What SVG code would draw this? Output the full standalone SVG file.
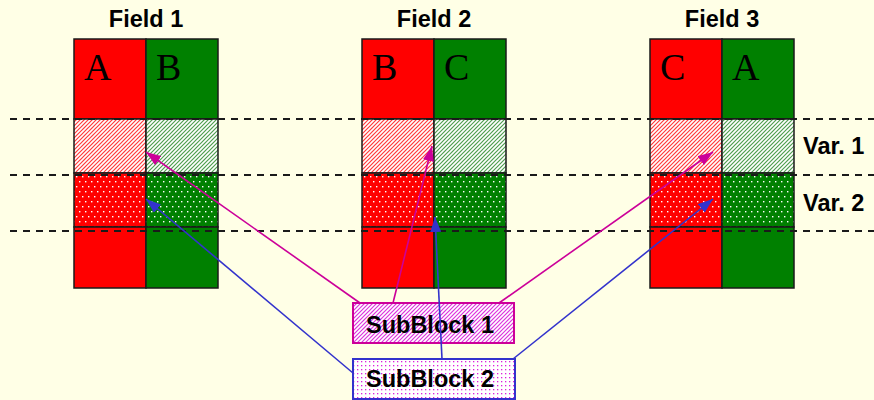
<svg xmlns="http://www.w3.org/2000/svg" width="874" height="400" viewBox="0 0 874 400">
  <style>
    .title { font-family: "Liberation Sans", Arial, sans-serif; font-weight: bold; font-size: 23.5px; fill: #000; }
    .letter { font-family: "Liberation Serif", "Times New Roman", serif; font-size: 38px; fill: #000; }
    .cell { stroke: #1a1a1a; stroke-width: 1.5; }
    .grid { stroke: #1a1a1a; stroke-width: 2; stroke-dasharray: 7 6; fill: none; }
    .mag { stroke: #CC0099; stroke-width: 1.6; fill: none; }
    .blu { stroke: #3333CC; stroke-width: 1.6; fill: none; }
    .hatch { fill: none; stroke-width: 1.2; }
  </style>
  <defs>
    <!-- diagonal hatches, 8px tiles with a 4px stripe period -->
    <pattern id="hatchRed" width="8" height="8" patternUnits="userSpaceOnUse">
      <rect width="8" height="8" fill="#fff"/>
      <path class="hatch" stroke="#FF3A3A" d="M-1,1 L1,-1 M-1,5 L5,-1 M-1,9 L9,-1 M3,9 L9,3 M7,9 L9,7"/>
    </pattern>
    <pattern id="hatchGreen" width="8" height="8" patternUnits="userSpaceOnUse">
      <rect width="8" height="8" fill="#fff"/>
      <path class="hatch" stroke="#4E9E4E" d="M-1,1 L1,-1 M-1,5 L5,-1 M-1,9 L9,-1 M3,9 L9,3 M7,9 L9,7"/>
    </pattern>
    <pattern id="hatchMag" width="8" height="8" patternUnits="userSpaceOnUse">
      <rect width="8" height="8" fill="#fff"/>
      <path class="hatch" stroke="#DD33DD" d="M-1,1 L1,-1 M-1,5 L5,-1 M-1,9 L9,-1 M3,9 L9,3 M7,9 L9,7"/>
    </pattern>
    <!-- dotted fills -->
    <pattern id="dotsRed" width="6" height="10" patternUnits="userSpaceOnUse">
      <rect width="6" height="10" fill="#FF0000"/>
      <rect x="1" y="1" width="1.4" height="1.4" fill="#fff"/>
      <rect x="4" y="6" width="1.4" height="1.4" fill="#fff"/>
    </pattern>
    <pattern id="dotsGreen" width="6" height="10" patternUnits="userSpaceOnUse">
      <rect width="6" height="10" fill="#008000"/>
      <rect x="1" y="1" width="1.4" height="1.4" fill="#fff"/>
      <rect x="4" y="6" width="1.4" height="1.4" fill="#fff"/>
    </pattern>
    <pattern id="dotsMag" width="4" height="4" patternUnits="userSpaceOnUse">
      <rect width="4" height="4" fill="#fff"/>
      <rect x="1" y="1" width="1.3" height="1.3" fill="#DD22DD"/>
    </pattern>
    <marker id="headMag" viewBox="0 0 15 11" refX="15" refY="5.5" markerWidth="15" markerHeight="11" markerUnits="userSpaceOnUse" orient="auto">
      <path d="M0,0 L15,5.5 L0,11 z" fill="#CC0099"/>
    </marker>
    <marker id="headBlu" viewBox="0 0 15 11" refX="15" refY="5.5" markerWidth="15" markerHeight="11" markerUnits="userSpaceOnUse" orient="auto">
      <path d="M0,0 L15,5.5 L0,11 z" fill="#3333CC"/>
    </marker>
  </defs>

  <rect width="874" height="400" fill="#FFFFE6"/>

  <!-- Field 1 -->
  <g id="field1">
    <text class="title" x="146" y="27" text-anchor="middle">Field 1</text>
    <rect class="cell" x="74" y="39" width="72" height="80" fill="#FF0000"/>
    <rect class="cell" x="146" y="39" width="72" height="80" fill="#008000"/>
    <rect class="cell" x="74" y="119" width="72" height="54" fill="url(#hatchRed)"/>
    <rect class="cell" x="146" y="119" width="72" height="54" fill="url(#hatchGreen)"/>
    <rect class="cell" x="74" y="173" width="72" height="54" fill="url(#dotsRed)"/>
    <rect class="cell" x="146" y="173" width="72" height="54" fill="url(#dotsGreen)"/>
    <rect class="cell" x="74" y="227" width="72" height="61" fill="#FF0000"/>
    <rect class="cell" x="146" y="227" width="72" height="61" fill="#008000"/>
    <text class="letter" x="84" y="80">A</text>
    <text class="letter" x="156" y="80">B</text>
  </g>

  <!-- Field 2 -->
  <g id="field2">
    <text class="title" x="434" y="27" text-anchor="middle">Field 2</text>
    <rect class="cell" x="362" y="39" width="72" height="80" fill="#FF0000"/>
    <rect class="cell" x="434" y="39" width="72" height="80" fill="#008000"/>
    <rect class="cell" x="362" y="119" width="72" height="54" fill="url(#hatchRed)"/>
    <rect class="cell" x="434" y="119" width="72" height="54" fill="url(#hatchGreen)"/>
    <rect class="cell" x="362" y="173" width="72" height="54" fill="url(#dotsRed)"/>
    <rect class="cell" x="434" y="173" width="72" height="54" fill="url(#dotsGreen)"/>
    <rect class="cell" x="362" y="227" width="72" height="61" fill="#FF0000"/>
    <rect class="cell" x="434" y="227" width="72" height="61" fill="#008000"/>
    <text class="letter" x="372" y="80">B</text>
    <text class="letter" x="444" y="80">C</text>
  </g>

  <!-- Field 3 -->
  <g id="field3">
    <text class="title" x="722" y="27" text-anchor="middle">Field 3</text>
    <rect class="cell" x="650" y="39" width="72" height="80" fill="#FF0000"/>
    <rect class="cell" x="722" y="39" width="72" height="80" fill="#008000"/>
    <rect class="cell" x="650" y="119" width="72" height="54" fill="url(#hatchRed)"/>
    <rect class="cell" x="722" y="119" width="72" height="54" fill="url(#hatchGreen)"/>
    <rect class="cell" x="650" y="173" width="72" height="54" fill="url(#dotsRed)"/>
    <rect class="cell" x="722" y="173" width="72" height="54" fill="url(#dotsGreen)"/>
    <rect class="cell" x="650" y="227" width="72" height="61" fill="#FF0000"/>
    <rect class="cell" x="722" y="227" width="72" height="61" fill="#008000"/>
    <text class="letter" x="660" y="80">C</text>
    <text class="letter" x="732" y="80">A</text>
  </g>

  <!-- row guides -->
  <g id="guides">
    <line class="grid" x1="10" y1="119" x2="874" y2="119"/>
    <line class="grid" x1="10" y1="175" x2="874" y2="175"/>
    <line class="grid" x1="10" y1="231" x2="874" y2="231"/>
  </g>

  <g id="var-labels">
    <text class="title" x="803" y="154">Var. 1</text>
    <text class="title" x="803" y="211">Var. 2</text>
  </g>

  <g id="subblock1">
    <rect x="353" y="303" width="161" height="40" fill="url(#hatchMag)" stroke="#CC0099" stroke-width="2"/>
    <text class="title" x="366" y="333">SubBlock 1</text>
  </g>

  <g id="subblock2">
    <rect x="353" y="359" width="162" height="40" fill="url(#dotsMag)" stroke="#3333CC" stroke-width="2"/>
    <text class="title" x="366" y="387">SubBlock 2</text>
  </g>

  <!-- connectors -->
  <g id="connectors">
    <line class="mag" x1="360" y1="303" x2="146" y2="152" marker-end="url(#headMag)"/>
    <line class="mag" x1="393" y1="303" x2="432" y2="146" marker-end="url(#headMag)"/>
    <line class="mag" x1="499" y1="303" x2="713" y2="152" marker-end="url(#headMag)"/>
    <line class="blu" x1="353" y1="373" x2="146" y2="199" marker-end="url(#headBlu)"/>
    <line class="blu" x1="442" y1="359" x2="435" y2="217" marker-end="url(#headBlu)"/>
    <line class="blu" x1="513" y1="359" x2="713" y2="199" marker-end="url(#headBlu)"/>
  </g>
</svg>
